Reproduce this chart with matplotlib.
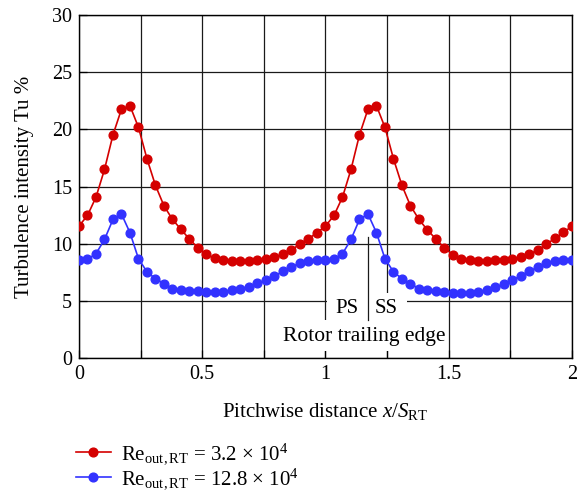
import matplotlib
matplotlib.use("Agg")
import matplotlib.pyplot as plt
from matplotlib.patches import Rectangle
from matplotlib.ticker import MultipleLocator

plt.rcParams['font.family'] = ['Liberation Serif', 'DejaVu Serif']
plt.rcParams['mathtext.fontset'] = 'custom'
plt.rcParams['mathtext.rm'] = 'Liberation Serif'
plt.rcParams['mathtext.it'] = 'Liberation Serif:italic'

# pitchwise positions, 29 steps per rotor pitch
x_pos = [i / 29 for i in range(59)]

tu_low_re = [11.54, 12.47, 14.07, 16.49, 19.52, 21.77, 22.06, 20.17, 17.42, 15.09,
             13.31, 12.12, 11.25, 10.40, 9.63, 9.06, 8.71, 8.54, 8.48, 8.48,
             8.51, 8.54, 8.63, 8.80, 9.09, 9.44, 9.99, 10.43, 10.96, 11.54,
             12.47, 14.07, 16.49, 19.52, 21.77, 22.06, 20.17, 17.42, 15.09, 13.31,
             12.12, 11.19, 10.40, 9.62, 9.03, 8.68, 8.57, 8.51, 8.51, 8.54,
             8.57, 8.65, 8.83, 9.09, 9.44, 9.97, 10.46, 10.98, 11.54]

tu_high_re = [8.57, 8.63, 9.12, 10.37, 12.12, 12.59, 10.96, 8.68, 7.54, 6.93,
              6.50, 6.06, 5.94, 5.88, 5.84, 5.77, 5.77, 5.80, 5.91, 6.06,
              6.24, 6.53, 6.82, 7.17, 7.58, 7.98, 8.30, 8.51, 8.60, 8.60,
              8.63, 9.12, 10.37, 12.12, 12.59, 10.96, 8.68, 7.54, 6.93, 6.50,
              6.06, 5.94, 5.88, 5.80, 5.72, 5.65, 5.65, 5.77, 5.94, 6.18,
              6.47, 6.82, 7.20, 7.60, 7.95, 8.27, 8.48, 8.60, 8.57]

label_low = r'Re$_{\mathrm{out,RT}}$ = 3.2 $\times$ 10$^{4}$'
label_high = r'Re$_{\mathrm{out,RT}}$ = 12.8 $\times$ 10$^{4}$'

fig = plt.figure(figsize=(5.77, 4.93), dpi=100)
ax = fig.add_axes([0.1369, 0.2738, 0.8544, 0.6957])

ax.plot(x_pos, tu_low_re, color='#d40000', lw=1.2, marker='o', ms=6.3,
        mec='#d40000', mfc='#d40000', zorder=4, label=label_low)
ax.plot(x_pos, tu_high_re, color='#3232ff', lw=1.2, marker='o', ms=6.3,
        mec='#3232ff', mfc='#3232ff', zorder=4, label=label_high)

ax.set_xlim(0, 2)
ax.set_ylim(0, 30)
ax.xaxis.set_major_locator(MultipleLocator(0.5))
ax.xaxis.set_minor_locator(MultipleLocator(0.25))
ax.yaxis.set_major_locator(MultipleLocator(5))
ax.xaxis.set_major_formatter(plt.FuncFormatter(lambda v, p: f'{v:g}'))
ax.grid(True, which='both', color='#1a1a1a', lw=0.9)
ax.tick_params(which='both', direction='in', length=6, width=0.9, labelsize=14.5, pad=5)
for s in ax.spines.values():
    s.set_linewidth(1.0)
    s.set_color('black')

# blank areas behind the trailing edge labels
ax.add_patch(Rectangle((1.005, 3.3), 0.325, 2.4, facecolor='white', edgecolor='none', zorder=2))
ax.add_patch(Rectangle((0.80, 0.6), 0.69, 2.7, facecolor='white', edgecolor='none', zorder=2))
ax.plot([1.173, 1.173], [3.3, 10.6], color='#1a1a1a', lw=0.9, zorder=3)
ax.text(1.087, 4.3, 'PS', ha='center', va='center', fontsize=15, zorder=3)
ax.text(1.245, 4.3, 'SS', ha='center', va='center', fontsize=15, zorder=3)
ax.text(1.156, 1.85, 'Rotor trailing edge', ha='center', va='center', fontsize=15.5, zorder=3)

ax.set_ylabel('Turbulence intensity Tu %', fontsize=15, labelpad=13)
ax.set_xlabel(r'Pitchwise distance $x$/$S$$_{\mathrm{RT}}$', fontsize=15, labelpad=12)

fig.legend(loc='upper left', bbox_to_anchor=(0.132, 0.104), bbox_transform=fig.transFigure,
           frameon=False, fontsize=15, handlelength=1.65, handletextpad=0.5,
           labelspacing=0.0, borderpad=0, borderaxespad=0)

fig.savefig('out.png', dpi=100)
